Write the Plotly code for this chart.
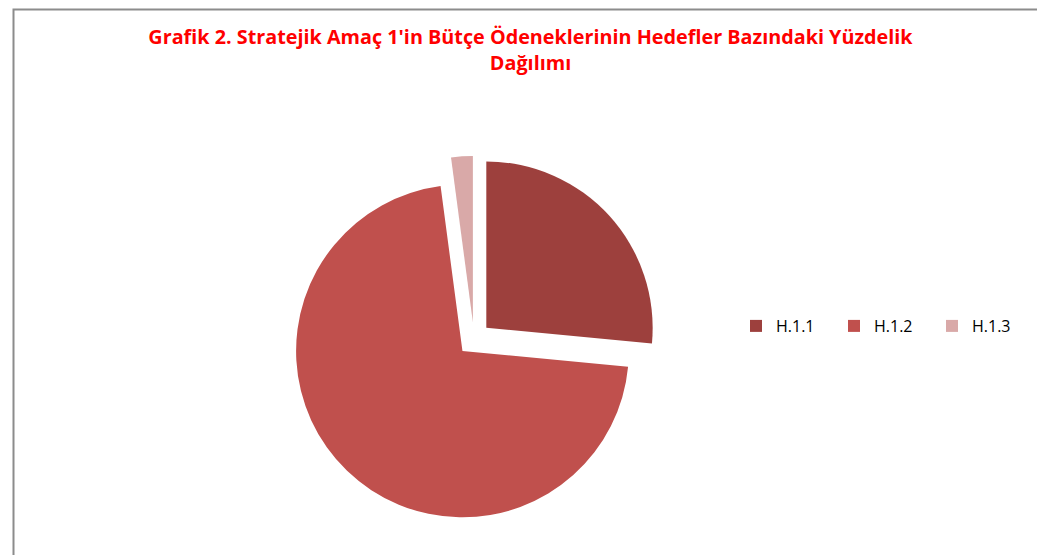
import plotly.graph_objects as go

labels = ["H.1.1", "H.1.2", "H.1.3"]
values = [26.5, 71.4, 2.1]
colors = ["#9D403D", "#C0504D", "#D9A9A8"]

W, H = 1045, 555
cx, cy, size = 466, 331, 366

fig = go.Figure(go.Pie(
    labels=labels, values=values, sort=False, direction="clockwise", rotation=0,
    marker=dict(colors=colors, line=dict(width=0)),
    pull=[0.1, 0.1, 0.1], textinfo="none", hoverinfo="label+percent",
    domain=dict(x=[(cx - size / 2) / W, (cx + size / 2) / W],
                y=[1 - (cy + size / 2) / H, 1 - (cy - size / 2) / H]),
))

fig.update_layout(
    width=W, height=H, margin=dict(l=0, r=0, t=0, b=0, autoexpand=False),
    paper_bgcolor="white", plot_bgcolor="white",
    title=dict(text="Grafik 2. Stratejik Amaç 1'in Bütçe Ödeneklerinin Hedefler Bazındaki Yüzdelik<br>Dağılımı",
               x=0.5, xanchor="center", y=1 - 36 / H, yanchor="top",
               font=dict(family="Open Sans", size=19.8, color="#FF0000", weight="bold")),
    legend=dict(orientation="h", x=728 / W, y=1 - 318 / H, xanchor="left", yanchor="middle",
                font=dict(family="Open Sans", size=16, color="#000000"),
                itemwidth=30, entrywidth=53, entrywidthmode="pixels", tracegroupgap=0),
    shapes=[dict(type="rect", xref="paper", yref="paper",
                 x0=5.5 / W, x1=1.05, y0=-0.05, y1=1 - 1.5 / H,
                 line=dict(color="#8C8C8C", width=2), fillcolor="rgba(0,0,0,0)")],
)

fig.write_html("out.html")
